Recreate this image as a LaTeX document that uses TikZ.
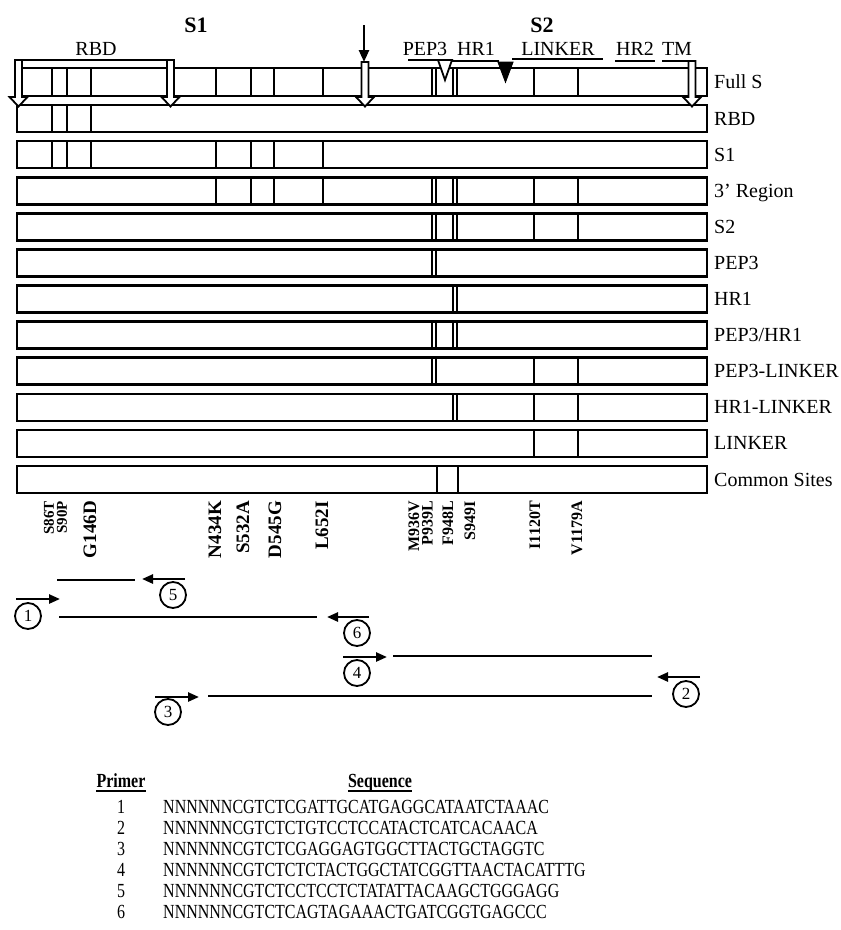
\documentclass[tikz,border=0pt]{standalone}
\usepackage{fontspec}
\setmainfont{Liberation Serif}
\newfontfamily\condfont[FakeStretch=0.8]{Liberation Serif}
\usetikzlibrary{arrows.meta}
\newcommand\mline[2]{\draw[mut] (#2,#1-13.5) -- (#2,#1+13.5);}
\newcommand\dline[2]{\draw[dmut] (#2-1.9,#1-13.5) -- (#2-1.9,#1+13.5) (#2+1.9,#1-13.5) -- (#2+1.9,#1+13.5);}
\newcommand\harrow[2]{\draw[hollow] (#1-3.5,#2) -- (#1-3.5,97) -- (#1-9,97) -- (#1,106.5) -- (#1+9,97) -- (#1+3.5,97) -- (#1+3.5,#2) -- cycle;}
\begin{document}
\begin{tikzpicture}[x=1pt,y=-1pt,
  bar/.style={draw, line width=2.6pt, minimum width=690pt, minimum height=27pt, inner sep=0pt},
  barlab/.style={anchor=base west, font=\fontsize{20}{22}\selectfont, inner sep=0pt},
  mut/.style={line width=2.6pt},
  dmut/.style={line width=1.7pt},
  toplab/.style={anchor=base, font=\fontsize{20}{22}\selectfont, inner sep=0pt},
  biglab/.style={anchor=base, font=\bfseries\fontsize{22}{24}\selectfont, inner sep=0pt},
  uline/.style={line width=2.5pt},
  hollow/.style={draw, fill=white, line width=1.8pt, line join=miter},
  mutlab/.style={rotate=90, anchor=east, inner sep=0pt, font=\bfseries\fontsize{19}{20}\selectfont},
  mutsmall/.style={mutlab, font=\bfseries\fontsize{15}{16}\selectfont},
  mutmid/.style={mutlab, font=\bfseries\fontsize{16}{17}\selectfont},
  amp/.style={line width=2.7pt},
  parrow/.style={line width=2.4pt, -{Triangle[length=11pt,width=9pt]}},
  circ/.style={circle, draw, line width=1.8pt, minimum size=26pt, inner sep=0pt, font=\fontsize{17}{17}\selectfont},
  tabhead/.style={anchor=base, inner sep=0pt, font=\condfont\bfseries\fontsize{20}{22}\selectfont},
  tabnum/.style={anchor=base, inner sep=0pt, font=\condfont\fontsize{20}{22}\selectfont},
  tabseq/.style={anchor=base west, inner sep=0pt, font=\condfont\fontsize{20}{22}\selectfont}
]
\useasboundingbox (0,0) rectangle (841,930);

% ---------- bars ----------
\node[bar, minimum height=28pt] (fulls) at (362,82) {};
\node[barlab] (fulls-l) at (714,88.5) {Full S};
\foreach \x in {52,67,91,216,251,274,323,534,578} {\draw[mut] (\x,68) -- (\x,96);}
\draw[dmut] (432.1,68) -- (432.1,96) (435.9,68) -- (435.9,96) (453.1,68) -- (453.1,96) (456.9,68) -- (456.9,96);

\node[bar] (rbd) at (362,118.5) {};
\node[barlab] (rbd-l) at (714,125) {RBD};
\mline{118.5}{52}\mline{118.5}{67}\mline{118.5}{91}

\node[bar] (s1) at (362,154.6) {};
\node[barlab] (s1-l) at (714,161.1) {S1};
\foreach \x in {52,67,91,216,251,274,323} {\mline{154.6}{\x}}

\node[bar] (r3) at (362,190.7) {};
\node[barlab] (r3-l) at (714,197.2) {3’ Region};
\foreach \x in {216,251,274,323,534,578} {\mline{190.7}{\x}}
\dline{190.7}{434}\dline{190.7}{455}

\node[bar] (s2) at (362,226.8) {};
\node[barlab] (s2-l) at (714,233.3) {S2};
\foreach \x in {534,578} {\mline{226.8}{\x}}
\dline{226.8}{434}\dline{226.8}{455}

\node[bar] (pep3) at (362,262.9) {};
\node[barlab] (pep3-l) at (714,269.4) {PEP3};
\dline{262.9}{434}

\node[bar] (hr1) at (362,299.0) {};
\node[barlab] (hr1-l) at (714,305.5) {HR1};
\dline{299.0}{455}

\node[bar] (pephr) at (362,335.1) {};
\node[barlab] (pephr-l) at (714,341.6) {PEP3/HR1};
\dline{335.1}{434}\dline{335.1}{455}

\node[bar] (peplk) at (362,371.2) {};
\node[barlab] (peplk-l) at (714,377.7) {PEP3-LINKER};
\dline{371.2}{434}\mline{371.2}{534}\mline{371.2}{578}

\node[bar] (hrlk) at (362,407.3) {};
\node[barlab] (hrlk-l) at (714,413.8) {HR1-LINKER};
\dline{407.3}{455}\mline{407.3}{534}\mline{407.3}{578}

\node[bar] (lk) at (362,443.4) {};
\node[barlab] (lk-l) at (714,449.9) {LINKER};
\mline{443.4}{534}\mline{443.4}{578}

\node[bar] (cs) at (362,479.5) {};
\node[barlab] (cs-l) at (714,486.0) {Common Sites};
\mline{479.5}{437}\mline{479.5}{458}

% ---------- top annotations ----------
\node[biglab] (t-s1) at (196,32) {S1};
\node[biglab] (t-s2) at (542,32) {S2};
\node[toplab] (t-rbd) at (96,55) {RBD};
\node[toplab] (t-pep3) at (425,55) {PEP3};
\node[toplab] (t-hr1) at (476,55) {HR1};
\node[toplab] (t-lk) at (558,55) {LINKER};
\node[toplab] (t-hr2) at (635,55) {HR2};
\node[toplab] (t-tm) at (677,55) {TM};

\harrow{18.5}{60}
\harrow{170.5}{60}
\harrow{365}{62}
\harrow{692}{61}
\draw[uline] (14.5,60) -- (174.5,60);

\draw[uline] (408,60) -- (439,60);
\draw[uline] (451,61) -- (499,61);
\draw[uline] (512,59) -- (603,59);
\draw[uline] (615,61) -- (655,61);
\draw[uline] (662,61) -- (692,61);

\draw[fill=white, line width=1.8pt, line join=miter] (438,60) -- (452,60) -- (445,80) -- cycle;
\draw[fill=black, line width=1pt] (498,62) -- (513,62) -- (505.5,82) -- cycle;

\coordinate (cut-s) at (364,25);
\coordinate (cut-e) at (364,62);
\draw[line width=2.5pt, -{Triangle[length=12pt,width=10pt]}] (cut-s) -- (cut-e);

% ---------- mutation labels ----------
\node[mutsmall] (m1) at (49,501) {S86T};
\node[mutsmall] (m2) at (62,501) {S90P};
\node[mutlab] (m3) at (90,501) {G146D};
\node[mutlab] (m4) at (215,501) {N434K};
\node[mutlab] (m5) at (243,501) {S532A};
\node[mutlab] (m6) at (275,501) {D545G};
\node[mutlab] (m7) at (322,501) {L652I};
\node[mutmid] (m8) at (414,501) {M936V};
\node[mutmid] (m9) at (427.5,501) {P939L};
\node[mutmid] (m10) at (448,501) {F948L};
\node[mutmid] (m11) at (470,501) {S949I};
\node[mutmid] (m12) at (535,501) {I1120T};
\node[mutmid] (m13) at (577,501) {V1179A};

% ---------- primers & amplicons ----------
\coordinate (a5s) at (57,580);  \coordinate (a5e) at (135,580);
\coordinate (a1s) at (59,617);  \coordinate (a1e) at (317,617);
\coordinate (a4s) at (393,656); \coordinate (a4e) at (652,656);
\coordinate (a3s) at (208,696); \coordinate (a3e) at (652,696);
\draw[amp] (a5s) -- (a5e);
\draw[amp] (a1s) -- (a1e);
\draw[amp] (a4s) -- (a4e);
\draw[amp] (a3s) -- (a3e);

\coordinate (p5s) at (185,579); \coordinate (p5e) at (142,579);
\coordinate (p1s) at (16,599);  \coordinate (p1e) at (60,599);
\coordinate (p6s) at (369,617); \coordinate (p6e) at (327,617);
\coordinate (p4s) at (343,657); \coordinate (p4e) at (387,657);
\coordinate (p3s) at (155,697); \coordinate (p3e) at (199,697);
\coordinate (p2s) at (700,677); \coordinate (p2e) at (657,677);
\draw[parrow] (p5s) -- (p5e);
\draw[parrow] (p1s) -- (p1e);
\draw[parrow] (p6s) -- (p6e);
\draw[parrow] (p4s) -- (p4e);
\draw[parrow] (p3s) -- (p3e);
\draw[parrow] (p2s) -- (p2e);

\node[circ] (c5) at (173,595) {5};
\node[circ] (c1) at (28,616) {1};
\node[circ] (c6) at (357,633) {6};
\node[circ] (c4) at (357,673) {4};
\node[circ] (c3) at (168,712) {3};
\node[circ] (c2) at (686,694) {2};

% ---------- table ----------
\node[tabhead] (h-primer) at (121,787) {Primer};
\node[tabhead] (h-seq) at (380,787) {Sequence};
\draw[line width=1.4pt] ([yshift=-4pt]h-primer.base west) -- ([yshift=-4pt]h-primer.base east);
\draw[line width=1.4pt] ([yshift=-4pt]h-seq.base west) -- ([yshift=-4pt]h-seq.base east);

\node[tabnum] (n1) at (121,813) {1};
\node[tabseq] (q1) at (163,813) {NNNNNNCGTCTCGATTGCATGAGGCATAATCTAAAC};
\node[tabnum] (n2) at (121,834) {2};
\node[tabseq] (q2) at (163,834) {NNNNNNCGTCTCTGTCCTCCATACTCATCACAACA};
\node[tabnum] (n3) at (121,855) {3};
\node[tabseq] (q3) at (163,855) {NNNNNNCGTCTCGAGGAGTGGCTTACTGCTAGGTC};
\node[tabnum] (n4) at (121,876) {4};
\node[tabseq] (q4) at (163,876) {NNNNNNCGTCTCTCTACTGGCTATCGGTTAACTACATTTG};
\node[tabnum] (n5) at (121,897) {5};
\node[tabseq] (q5) at (163,897) {NNNNNNCGTCTCCTCCTCTATATTACAAGCTGGGAGG};
\node[tabnum] (n6) at (121,918) {6};
\node[tabseq] (q6) at (163,918) {NNNNNNCGTCTCAGTAGAAACTGATCGGTGAGCCC};
\end{tikzpicture}
\end{document}
